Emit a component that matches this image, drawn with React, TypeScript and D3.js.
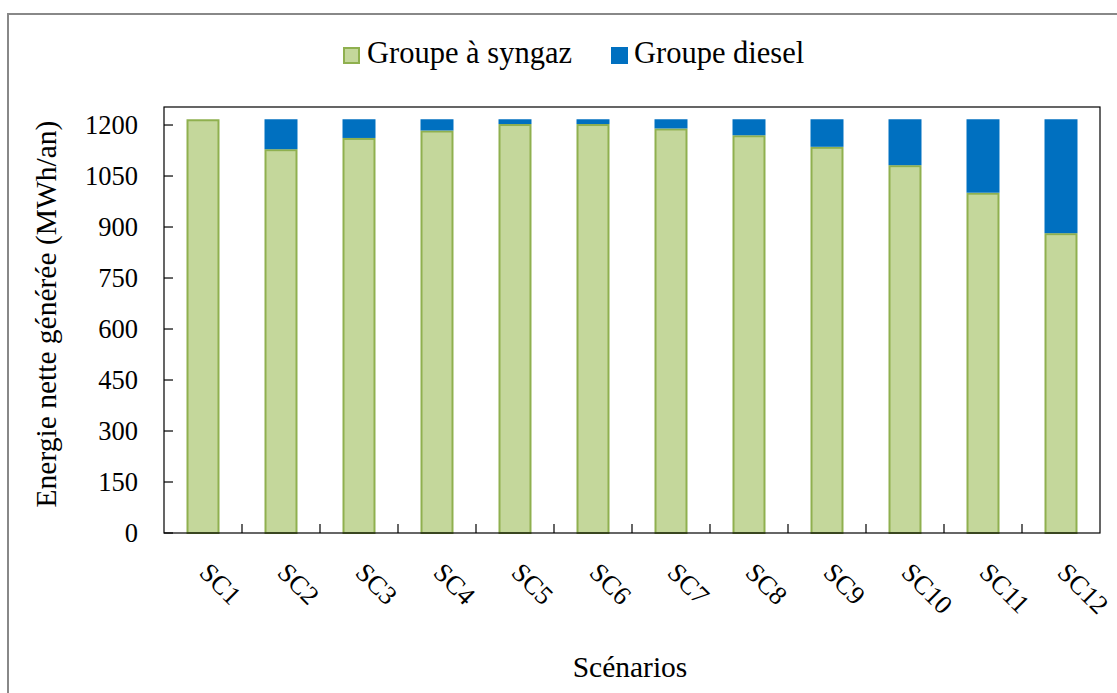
import React from "react";
import * as d3 from "d3";

const categories = ["SC1","SC2","SC3","SC4","SC5","SC6","SC7","SC8","SC9","SC10","SC11","SC12"];
const syngaz = [1214, 1126, 1159, 1181, 1200, 1200, 1187, 1167, 1133, 1079, 998, 879];
const diesel = [0, 88, 55, 33, 14, 14, 27, 47, 81, 135, 216, 335];
const yTicks = [0, 150, 300, 450, 600, 750, 900, 1050, 1200];
const seriesNames = ["Groupe à syngaz", "Groupe diesel"];

const W = 1117, H = 693;
const left = 164, right = 1100, top = 107, bottom = 533;
const FONT = "'Liberation Serif', 'Times New Roman', serif";
const GREEN = "#c4d79b", GREEN_STROKE = "#8fb04f", BLUE = "#0070c0";

export default function App() {
  const x = d3.scaleBand<string>().domain(categories).range([left, right]).paddingInner(0.577).paddingOuter(0.2885);
  const y = d3.scaleLinear().domain([0, 1253]).range([bottom, top]);
  const step = x.step();
  const rows = categories.map((c, i) => ({ c, s: syngaz[i], d: diesel[i] }));
  const stack = d3.stack<any>().keys(["s", "d"])(rows as any);

  return (
    <svg width={W} height={H} style={{ position: "absolute", left: 0, top: 0 }} fontFamily={FONT}>
      <rect x={0} y={0} width={W} height={H} fill="#fff" />
      <rect x={8} y={14} width={1125} height={700} fill="none" stroke="#888" strokeWidth={2} />
      {/* legend */}
      <rect x={344} y={48} width={15} height={15} fill={GREEN} stroke={GREEN_STROKE} strokeWidth={2} />
      <text x={367} y={63} fontSize={30.5} fill="#000">{seriesNames[0]}</text>
      <rect x={611} y={47} width={17} height={17} fill={BLUE} />
      <text x={634} y={63} fontSize={30.5} fill="#000">{seriesNames[1]}</text>
      {/* bars */}
      {stack[0].map((seg: any, i: number) => (
        <rect key={"g" + i} x={(x(categories[i]) as number) + 1} y={y(seg[1])} width={x.bandwidth() - 2}
          height={y(seg[0]) - y(seg[1])} fill={GREEN} stroke={GREEN_STROKE} strokeWidth={2} />
      ))}
      {stack[1].map((seg: any, i: number) => seg[1] - seg[0] > 0 ? (
        <rect key={"b" + i} x={x(categories[i]) as number} y={y(seg[1]) - 1} width={x.bandwidth()}
          height={y(seg[0]) - y(seg[1])} fill={BLUE} />
      ) : null)}
      {/* plot frame */}
      <rect x={left} y={top} width={right - left} height={bottom - top} fill="none" stroke="#000" strokeWidth={1.2} />
      {/* y ticks */}
      {yTicks.map((t) => (
        <g key={t}>
          <line x1={left} x2={left + 9} y1={y(t)} y2={y(t)} stroke="#000" strokeWidth={1.2} />
          <text x={138} y={y(t) + 9} textAnchor="end" fontSize={26.5} fill="#000">{t}</text>
        </g>
      ))}
      {/* x ticks */}
      {categories.slice(1).map((c) => (
        <line key={c} x1={(x(c) as number) - (step - x.bandwidth()) / 2} x2={(x(c) as number) - (step - x.bandwidth()) / 2}
          y1={bottom} y2={bottom - 9} stroke="#000" strokeWidth={1.2} />
      ))}
      {categories.map((c) => {
        const cx = (x(c) as number) + x.bandwidth() / 2;
        return (
          <text key={c} transform={`translate(${cx - 5},${bottom + 41}) rotate(45)`} fontSize={26.5} fill="#000">{c}</text>
        );
      })}
      <text x={630} y={677} textAnchor="middle" fontSize={29.5} fill="#000">Scénarios</text>
      <text transform={`translate(56,314) rotate(-90)`} textAnchor="middle" fontSize={29.5} fill="#000">Energie nette générée (MWh/an)</text>
    </svg>
  );
}
